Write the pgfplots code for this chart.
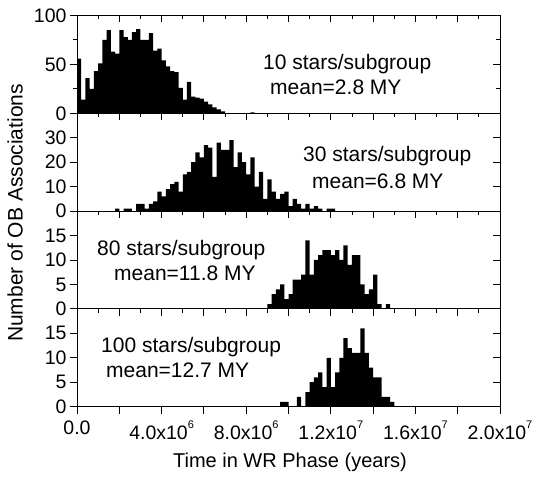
\documentclass[border=0pt]{standalone}
\usepackage{fontspec}
\setmainfont{Liberation Sans}
\usepackage{pgfplots}
\pgfplotsset{compat=1.18}

% tick label like 4.0x10^6 in the text font
\newcommand{\sci}[2]{#1x10\raisebox{0.55em}{\fontsize{11bp}{11bp}\selectfont #2}}

\pgfplotsset{
  panel/.style={
    scale only axis, width=423bp, height=97.8bp, anchor=south west,
    xmin=0, xmax=20, ymin=0,
    axis line style={line width=0.9bp},
    every tick/.style={black, line width=0.9bp},
    major tick length=7bp, minor tick length=4bp,
    /pgf/number format/assume math mode=true,
    tick label style={font=\fontsize{19.5bp}{22bp}\selectfont},
  },
  main/.style={panel, tick align=outside, xtick pos=left, ytick pos=left},
  twin/.style={panel, tick align=inside, xtick pos=right, ytick pos=right,
    xtick={0,2,...,20}, minor xtick={1,3,...,19},
    xticklabels={}, yticklabels={}},
  hist/.style={fill=black, draw=none, const plot},
}

\begin{document}
\begin{tikzpicture}
\path (0,0) rectangle (538bp,479bp);

% 10 stars/subgroup
\begin{axis}[main, at={(77bp,365.7bp)}, ymax=100, ytick={0,50,100}, minor ytick={25,75}, xtick=\empty]
\addplot[hist] coordinates {
 (0,56) (0.2,14) (0.4,36) (0.6,25) (0.8,43) (1.0,51) (1.2,75) (1.4,85) (1.6,63) (1.8,61)
 (2.0,85) (2.2,78) (2.4,75) (2.6,83) (2.8,86) (3.0,75) (3.2,75) (3.4,82) (3.6,64) (3.8,66)
 (4.0,54) (4.2,48) (4.4,43) (4.6,42) (4.8,26) (5.0,14) (5.2,32) (5.4,17) (5.6,16) (5.8,15)
 (6.0,12) (6.2,9) (6.4,6) (6.6,4) (6.8,2) (7.0,0) (8.2,1) (8.4,0)
} \closedcycle;
\end{axis}
\begin{axis}[twin, at={(77bp,365.7bp)}, ymax=100, ytick={0,50,100}, minor ytick={25,75}]
\end{axis}

% 30 stars/subgroup
\begin{axis}[main, at={(77bp,267.9bp)}, ymax=40, ytick={0,10,20,30}, xtick=\empty]
\addplot[hist] coordinates {
 (1.8,1) (2.0,0) (2.2,1) (2.4,1) (2.6,0) (2.8,3) (3.0,3) (3.2,1) (3.4,3) (3.6,4)
 (3.8,8) (4.0,6) (4.2,9) (4.4,11) (4.6,12) (4.8,8) (5.0,15) (5.2,16) (5.4,20) (5.6,24)
 (5.8,22) (6.0,27) (6.2,26) (6.4,14) (6.6,28) (6.8,25) (7.0,25) (7.2,29) (7.4,18) (7.6,24)
 (7.8,20) (8.0,15) (8.2,22) (8.4,10) (8.6,16) (8.8,5) (9.0,13) (9.2,8) (9.4,5) (9.6,7)
 (9.8,8) (10.0,2) (10.2,5) (10.4,3) (10.6,1) (10.8,3) (11.0,1) (11.2,2) (11.4,1) (11.6,0)
 (11.8,1) (12.0,1) (12.2,0)
} \closedcycle;
\end{axis}
\begin{axis}[twin, at={(77bp,267.9bp)}, ymax=40, ytick={0,10,20,30}]
\end{axis}

% 80 stars/subgroup
\begin{axis}[main, at={(77bp,170.1bp)}, ymax=20, ytick={0,5,10,15}, xtick=\empty]
\addplot[hist] coordinates {
 (9.0,1) (9.2,3) (9.4,4) (9.6,5) (9.8,2) (10.0,3) (10.2,6) (10.4,6) (10.6,7) (10.8,14)
 (11.0,7) (11.2,10) (11.4,11) (11.6,12) (11.8,12) (12.0,11) (12.2,12) (12.4,10) (12.6,13) (12.8,9)
 (13.0,11) (13.2,11) (13.4,5) (13.6,3) (13.8,4) (14.0,7) (14.2,1) (14.4,0) (14.6,1) (14.8,0)
} \closedcycle;
\end{axis}
\begin{axis}[twin, at={(77bp,170.1bp)}, ymax=20, ytick={0,5,10,15}]
\end{axis}

% 100 stars/subgroup
\begin{axis}[main, at={(77bp,72.3bp)}, ymax=20, ytick={0,5,10,15},
  xtick={0,2,...,20},
  xticklabel style={yshift=-4bp},
  xticklabels={0.0,,\sci{4.0}{6},,\sci{8.0}{6},,\sci{1.2}{7},,\sci{1.6}{7},,\sci{2.0}{7}}]
\addplot[hist] coordinates {
 (9.6,1) (9.8,1) (10.0,0) (10.4,2) (10.6,0) (10.8,3) (11.0,5) (11.2,6) (11.4,7) (11.6,4)
 (11.8,10) (12.0,4) (12.2,7) (12.4,10) (12.6,14) (12.8,12) (13.0,11) (13.2,11) (13.4,16) (13.6,11)
 (13.8,8) (14.0,6) (14.2,6) (14.4,2) (14.6,2) (14.8,1) (15.0,0)
} \closedcycle;
\end{axis}
\begin{axis}[twin, at={(77bp,72.3bp)}, ymax=20, ytick={0,5,10,15}]
\end{axis}

\begin{scope}[every node/.style={inner sep=0pt, font=\fontsize{21bp}{24bp}\selectfont}]
\node[anchor=base west] at (263bp,409bp) {10 stars/subgroup};
\node[anchor=base west] at (270bp,384bp) {mean=2.8 MY};
\node[anchor=base west] at (303bp,317.3bp) {30 stars/subgroup};
\node[anchor=base west] at (312bp,290.7bp) {mean=6.8 MY};
\node[anchor=base west] at (97bp,223bp) {80 stars/subgroup};
\node[anchor=base west] at (114bp,198bp) {mean=11.8 MY};
\node[anchor=base west] at (101bp,126bp) {100 stars/subgroup};
\node[anchor=base west] at (106bp,101bp) {mean=12.7 MY};
\node[rotate=90] at (15bp,266bp) {Number of OB Associations};
\node[anchor=base, font=\fontsize{20bp}{24bp}\selectfont] at (290bp,12bp) {Time in WR Phase (years)};
\end{scope}
\end{tikzpicture}
\end{document}
